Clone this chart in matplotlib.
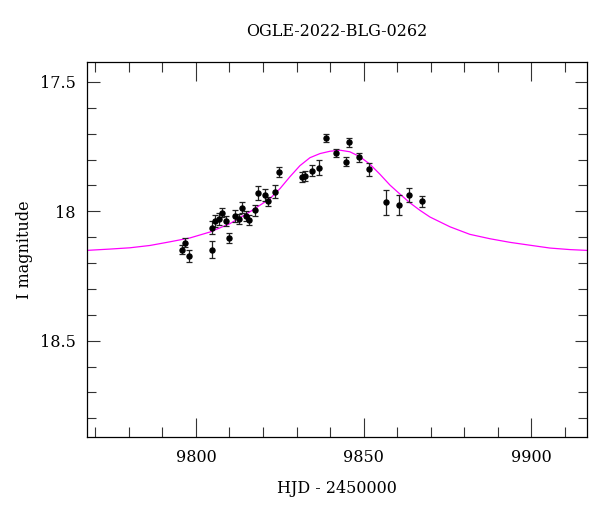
import matplotlib
matplotlib.use("Agg")
import matplotlib.pyplot as plt
from matplotlib.ticker import MultipleLocator

# Observed photometry (HJD - 2450000, I mag, error)
hjd = [9795.9, 9796.7, 9797.9, 9804.7, 9804.8, 9805.7, 9806.8, 9807.7, 9808.9,
       9809.8, 9811.7, 9812.7, 9813.8, 9814.9, 9815.8, 9817.7, 9818.6, 9820.6,
       9821.6, 9823.7, 9824.8, 9831.6, 9832.6, 9834.7, 9836.7, 9838.7, 9841.7,
       9844.7, 9845.6, 9848.6, 9851.6, 9856.7, 9860.6, 9863.5, 9867.5]
imag = [18.148, 18.121, 18.172, 18.063, 18.148, 18.037, 18.031, 18.005, 18.037,
        18.103, 18.017, 18.031, 17.986, 18.019, 18.035, 17.996, 17.930, 17.937,
        17.962, 17.925, 17.849, 17.867, 17.863, 17.844, 17.831, 17.716, 17.774,
        17.808, 17.733, 17.792, 17.837, 17.965, 17.975, 17.937, 17.962]
ierr = [0.018, 0.017, 0.022, 0.025, 0.032, 0.024, 0.023, 0.018, 0.019,
        0.019, 0.023, 0.020, 0.021, 0.019, 0.019, 0.021, 0.027, 0.025,
        0.017, 0.025, 0.019, 0.019, 0.019, 0.021, 0.029, 0.015, 0.015,
        0.018, 0.017, 0.019, 0.025, 0.048, 0.038, 0.026, 0.021]

# Model light curve
model_t = [9767.5, 9774.3, 9780.3, 9786.3, 9792.2, 9798.2, 9804.2, 9810.1,
           9816.1, 9822.1, 9825.1, 9828.0, 9831.0, 9834.0, 9837.0, 9840.0,
           9843.0, 9845.9, 9848.9, 9851.9, 9854.9, 9857.9, 9860.9, 9863.8,
           9866.8, 9869.8, 9875.8, 9881.7, 9887.7, 9893.7, 9899.6, 9905.6,
           9911.6, 9916.6]
model_m = [18.151, 18.146, 18.141, 18.132, 18.118, 18.103, 18.080, 18.048,
           18.002, 17.951, 17.912, 17.867, 17.824, 17.793, 17.777, 17.768,
           17.764, 17.770, 17.789, 17.818, 17.857, 17.899, 17.934, 17.967,
           17.996, 18.022, 18.060, 18.089, 18.106, 18.120, 18.131, 18.142,
           18.148, 18.151]

title = "OGLE-2022-BLG-0262"
xlabel = "HJD - 2450000"
ylabel = "I magnitude"

plt.rcParams['font.family'] = ['DejaVu Serif']
plt.rcParams['font.size'] = 11.5

fig = plt.figure(figsize=(6.0, 5.12), dpi=100)
ax = fig.add_axes([0.145, 0.1465, 0.833, 0.7325])

ax.plot(model_t, model_m, color='#ff00ff', lw=0.9, zorder=2)
ax.errorbar(hjd, imag, yerr=ierr, fmt='o', color='black', ms=3.6,
            elinewidth=0.9, capsize=2.3, capthick=0.9, ecolor='#222222', zorder=3)

ax.set_xlim(9767.5, 9916.6)
ax.set_ylim(18.872, 17.423)

ax.xaxis.set_major_locator(MultipleLocator(50))
ax.xaxis.set_minor_locator(MultipleLocator(10))
ax.yaxis.set_major_locator(MultipleLocator(0.5))
ax.yaxis.set_minor_locator(MultipleLocator(0.1))
ax.set_yticks([17.5, 18.0, 18.5])
ax.set_yticklabels(['17.5', '18', '18.5'])

ax.tick_params(axis='both', which='both', direction='in', top=True, right=True,
               width=0.8, color='#333333')
ax.tick_params(axis='x', which='major', length=13.5, pad=9)
ax.tick_params(axis='x', which='minor', length=7)
ax.tick_params(axis='y', which='major', length=9, pad=8)
ax.tick_params(axis='y', which='minor', length=6.5)
for s in ax.spines.values():
    s.set_linewidth(0.9)

ax.set_title(title, fontsize=11.5, pad=19)
ax.set_xlabel(xlabel, labelpad=10)
ax.set_ylabel(ylabel)
ax.yaxis.set_label_coords(-0.108, 0.5)

fig.savefig("out.png", dpi=100)
